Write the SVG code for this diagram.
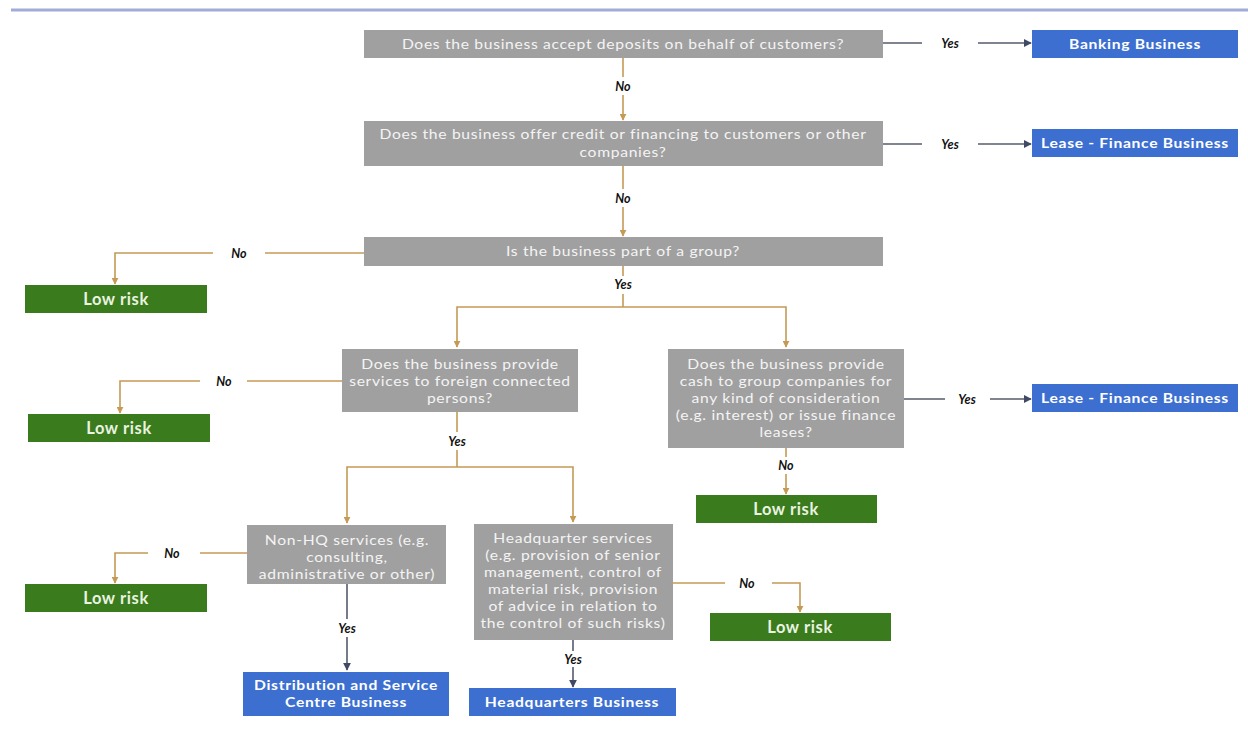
<svg xmlns="http://www.w3.org/2000/svg" width="1248" height="730" viewBox="0 0 1248 730">
  <style>
    .q rect { fill: #a0a0a0; }
    .q text { font-family: Lato, "Open Sans", sans-serif; font-size: 14px; letter-spacing: 0.6px; fill: #f4f4f4; text-anchor: middle; }
    .out rect { fill: #3d6fd0; }
    .out text { font-family: Lato, "Open Sans", sans-serif; font-size: 14px; letter-spacing: 0.6px; font-weight: bold; fill: #ffffff; text-anchor: middle; }
    .q text, .out text { transform-box: fill-box; transform-origin: center; transform: scaleX(1.12); }
    .low rect { fill: #3a7b1e; }
    .low text { font-family: Lato, "Open Sans", sans-serif; font-size: 16.5px; letter-spacing: 0.6px; font-weight: bold; fill: #e9f3e0; text-anchor: middle; }
    .tan { fill: none; stroke: #c49a55; stroke-width: 1.6; }
    .dark { fill: none; stroke: #565b6c; stroke-width: 1.6; }
    .lbl { font-family: Lato, "Open Sans", sans-serif; font-size: 12.5px; font-weight: bold; font-style: italic; fill: #111; text-anchor: middle; }
  </style>
  <defs>
    <marker id="arrTan" viewBox="0 0 10 10" refX="9" refY="5" markerWidth="7" markerHeight="7" orient="auto" markerUnits="userSpaceOnUse">
      <path d="M0,0 L10,5 L0,10 z" fill="#c49a55"/>
    </marker>
    <marker id="arrDark" viewBox="0 0 10 10" refX="9" refY="5" markerWidth="8" markerHeight="8" orient="auto" markerUnits="userSpaceOnUse">
      <path d="M0,0 L10,5 L0,10 z" fill="#404a66"/>
    </marker>
  </defs>

  <rect width="1248" height="730" fill="#ffffff"/>
  <!-- header rule -->
  <line x1="11" y1="10" x2="1248" y2="10" stroke="#a3acd9" stroke-width="3"/>

  <!-- connectors -->
  <g id="connectors">
    <path class="tan" d="M623,58 V77"/>
    <path class="tan" d="M623,95 V120" marker-end="url(#arrTan)"/>
    <path class="dark" d="M883,43 H922"/>
    <path class="dark" d="M978,43 H1031" marker-end="url(#arrDark)"/>
    <path class="dark" d="M883,144 H922"/>
    <path class="dark" d="M978,144 H1031" marker-end="url(#arrDark)"/>
    <path class="tan" d="M623,166 V189"/>
    <path class="tan" d="M623,207 V236" marker-end="url(#arrTan)"/>
    <path class="tan" d="M364,253 H265"/>
    <path class="tan" d="M213,253 H115 V284" marker-end="url(#arrTan)"/>
    <path class="tan" d="M623,266 V276"/>
    <path class="tan" d="M623,294 V307"/>
    <path class="tan" d="M623,307 H457 V347" marker-end="url(#arrTan)"/>
    <path class="tan" d="M623,307 H786 V347" marker-end="url(#arrTan)"/>
    <path class="tan" d="M342,381 H247"/>
    <path class="tan" d="M200,381 H120 V413" marker-end="url(#arrTan)"/>
    <path class="tan" d="M457,412 V432"/>
    <path class="tan" d="M457,450 V467"/>
    <path class="tan" d="M457,467 H347 V523" marker-end="url(#arrTan)"/>
    <path class="tan" d="M457,467 H573 V522" marker-end="url(#arrTan)"/>
    <path class="dark" d="M904,399 H945"/>
    <path class="dark" d="M990,399 H1031" marker-end="url(#arrDark)"/>
    <path class="tan" d="M786,448 V457"/>
    <path class="tan" d="M786,474 V494" marker-end="url(#arrTan)"/>
    <path class="tan" d="M247,553 H200"/>
    <path class="tan" d="M148,553 H115 V583" marker-end="url(#arrTan)"/>
    <path class="dark" d="M347,584 V619"/>
    <path class="dark" d="M347,637 V670" marker-end="url(#arrDark)"/>
    <path class="tan" d="M673,583 H725"/>
    <path class="tan" d="M772,583 H800 V612" marker-end="url(#arrTan)"/>
    <path class="dark" d="M573,640 V651"/>
    <path class="dark" d="M573,667 V687" marker-end="url(#arrDark)"/>

    <text class="lbl" x="623" y="91">No</text>
    <text class="lbl" x="950" y="48">Yes</text>
    <text class="lbl" x="950" y="149">Yes</text>
    <text class="lbl" x="623" y="203">No</text>
    <text class="lbl" x="239" y="258">No</text>
    <text class="lbl" x="623" y="289">Yes</text>
    <text class="lbl" x="224" y="386">No</text>
    <text class="lbl" x="457" y="446">Yes</text>
    <text class="lbl" x="967" y="404">Yes</text>
    <text class="lbl" x="786" y="470">No</text>
    <text class="lbl" x="172" y="558">No</text>
    <text class="lbl" x="347" y="633">Yes</text>
    <text class="lbl" x="747" y="588">No</text>
    <text class="lbl" x="573" y="664">Yes</text>
  </g>

  <!-- decision nodes -->
  <g id="q-deposits" class="q">
    <rect x="364" y="30" width="519" height="28"/>
    <text x="623" y="49">Does the business accept deposits on behalf of customers?</text>
  </g>
  <g id="q-credit" class="q">
    <rect x="364" y="121" width="519" height="45"/>
    <text x="623" y="139">Does the business offer credit or financing to customers or other</text>
    <text x="623" y="157">companies?</text>
  </g>
  <g id="q-group" class="q">
    <rect x="364" y="237" width="519" height="29"/>
    <text x="623" y="256">Is the business part of a group?</text>
  </g>
  <g id="q-foreign" class="q">
    <rect x="342" y="349" width="236" height="63"/>
    <text x="460" y="369.5">Does the business provide</text>
    <text x="460" y="386.5">services to foreign connected</text>
    <text x="460" y="403.5">persons?</text>
  </g>
  <g id="q-cash" class="q">
    <rect x="668" y="349" width="236" height="99"/>
    <text x="786" y="369.5">Does the business provide</text>
    <text x="786" y="386.5">cash to group companies for</text>
    <text x="786" y="403.5">any kind of consideration</text>
    <text x="786" y="420.5">(e.g. interest) or issue finance</text>
    <text x="786" y="437.5">leases?</text>
  </g>
  <g id="q-nonhq" class="q">
    <rect x="247" y="525" width="199" height="59"/>
    <text x="347" y="545.5">Non-HQ services (e.g.</text>
    <text x="347" y="562.5">consulting,</text>
    <text x="347" y="579.5">administrative or other)</text>
  </g>
  <g id="q-hq" class="q">
    <rect x="474" y="524" width="199" height="116"/>
    <text x="573" y="543">Headquarter services</text>
    <text x="573" y="560">(e.g. provision of senior</text>
    <text x="573" y="577">management, control of</text>
    <text x="573" y="594">material risk, provision</text>
    <text x="573" y="611">of advice in relation to</text>
    <text x="573" y="628">the control of such risks)</text>
  </g>

  <!-- outcome nodes -->
  <g id="out-banking" class="out">
    <rect x="1032" y="30" width="206" height="28"/>
    <text x="1135" y="49">Banking Business</text>
  </g>
  <g id="out-lease-1" class="out">
    <rect x="1032" y="129" width="206" height="28"/>
    <text x="1135" y="148">Lease - Finance Business</text>
  </g>
  <g id="out-lease-2" class="out">
    <rect x="1032" y="384" width="206" height="28"/>
    <text x="1135" y="403">Lease - Finance Business</text>
  </g>
  <g id="out-distribution" class="out">
    <rect x="243" y="672" width="206" height="44"/>
    <text x="346" y="690">Distribution and Service</text>
    <text x="346" y="707">Centre Business</text>
  </g>
  <g id="out-headquarters" class="out">
    <rect x="469" y="688" width="207" height="28"/>
    <text x="572" y="707">Headquarters Business</text>
  </g>

  <!-- low-risk nodes -->
  <g id="low-1" class="low">
    <rect x="25" y="285" width="182" height="28"/>
    <text x="116" y="305">Low risk</text>
  </g>
  <g id="low-2" class="low">
    <rect x="28" y="414" width="182" height="28"/>
    <text x="119" y="434">Low risk</text>
  </g>
  <g id="low-3" class="low">
    <rect x="696" y="495" width="181" height="28"/>
    <text x="786" y="515">Low risk</text>
  </g>
  <g id="low-4" class="low">
    <rect x="25" y="584" width="182" height="28"/>
    <text x="116" y="604">Low risk</text>
  </g>
  <g id="low-5" class="low">
    <rect x="710" y="613" width="181" height="28"/>
    <text x="800" y="633">Low risk</text>
  </g>
</svg>
